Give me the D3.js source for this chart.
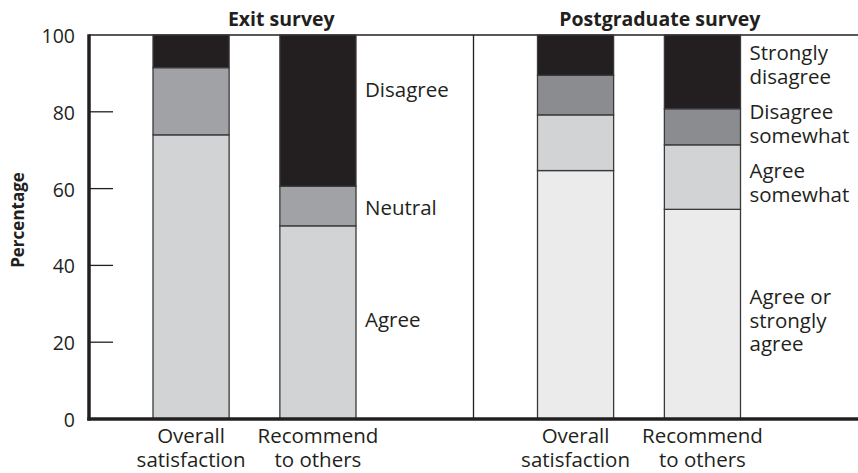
<!DOCTYPE html>
<html>
<head>
<meta charset="utf-8">
<script src="https://cdn.jsdelivr.net/npm/d3@7"></script>
<style>
  body { margin: 0; background: #fff; }
  text { font-family: "Open Sans", "Noto Sans", sans-serif; fill: #231f20; }
</style>
</head>
<body>
<div id="chart"></div>
<script>
// survey data, percentages per answer, bottom to top
const groups = ["Exit survey", "Postgraduate survey"];
const questions = ["Overall satisfaction", "Recommend to others"];
const questionLines = [["Overall", "satisfaction"], ["Recommend", "to others"]];

const exitLevels = ["Agree", "Neutral", "Disagree"];
const exitOverall = [74, 17.5, 8.5];
const exitRecommend = [50.3, 10.3, 39.4];
const exitColors = ["#d1d3d4", "#a1a2a5", "#231f20"];

const postLevels = ["Agree or strongly agree", "Agree somewhat", "Disagree somewhat", "Strongly disagree"];
const postOverall = [64.7, 14.5, 10.3, 10.5];
const postRecommend = [54.6, 16.8, 9.4, 19.2];
const postColors = ["#ebebec", "#d1d3d4", "#8b8c8f", "#231f20"];

const yTicks = [0, 20, 40, 60, 80, 100];

// label text shown beside the second bar of each group
const exitLabelLines = [["Agree"], ["Neutral"], ["Disagree"]];
const postLabelLines = [["Agree or", "strongly", "agree"], ["Agree", "somewhat"], ["Disagree", "somewhat"], ["Strongly", "disagree"]];

const W = 858, H = 473;
const mLeft = 89, mRight = 858, mTop = 35, mBottom = 419;

const svg = d3.select("#chart").append("svg")
  .attr("width", W)
  .attr("height", H);

let y = d3.scaleLinear().domain([0, 100]).range([mBottom, mTop]);

let xGroup = d3.scaleBand().domain(groups).range([mLeft, mRight]);
let xBar = d3.scaleBand().domain(questions).range([64, 267]).paddingInner(0.4);

let panels = [
  {name: groups[0], levels: exitLevels, colors: exitColors, values: [exitOverall, exitRecommend], labels: exitLabelLines,
   labelY: [327, 215, 97]},
  {name: groups[1], levels: postLevels, colors: postColors, values: [postOverall, postRecommend], labels: postLabelLines,
   labelY: [304, 178, 119, 60]}
];

// frame: top line and divider between panels
svg.append("line")
  .attr("x1", mLeft).attr("x2", mRight)
  .attr("y1", mTop).attr("y2", mTop)
  .attr("stroke", "#231f20").attr("stroke-width", 1.5);

svg.append("line")
  .attr("x1", xGroup(groups[1])).attr("x2", xGroup(groups[1]))
  .attr("y1", mTop).attr("y2", mBottom)
  .attr("stroke", "#231f20").attr("stroke-width", 1.3);

panels.forEach(function(p) {
  let x0 = xGroup(p.name);

  // stack the segments of each bar
  let rows = p.values.map(function(v, i) {
    let r = {q: questions[i]};
    p.levels.forEach(function(l, j) { r[l] = v[j]; });
    return r;
  });
  let series = d3.stack().keys(p.levels)(rows);

  let g = svg.append("g").attr("transform", "translate(" + x0 + ",0)");

  g.selectAll("g.seg")
    .data(series)
    .enter()
    .append("g")
    .attr("fill", function(d, i) { return p.colors[i]; })
    .selectAll("rect")
    .data(function(d) { return d; })
    .enter()
    .append("rect")
    .attr("x", function(d) { return xBar(d.data.q); })
    .attr("y", function(d) { return y(d[1]); })
    .attr("width", xBar.bandwidth())
    .attr("height", function(d) { return y(d[0]) - y(d[1]); })
    .attr("stroke", "#3a3a3c")
    .attr("stroke-width", 1.3);

  // panel title
  svg.append("text")
    .attr("x", x0 + xGroup.bandwidth() / 2 - (p.name === groups[1] ? 6 : 0))
    .attr("y", 26)
    .attr("text-anchor", "middle")
    .attr("font-weight", "bold")
    .attr("font-size", "19.5px")
    .text(p.name);

  // category labels under bars
  questions.forEach(function(q, i) {
    let cx = x0 + xBar(q) + xBar.bandwidth() / 2;
    let t = svg.append("text")
      .attr("x", cx)
      .attr("y", 443)
      .attr("text-anchor", "middle")
      .attr("font-size", "20.5px");
    questionLines[i].forEach(function(line, k) {
      t.append("tspan")
        .attr("x", cx)
        .attr("y", 443 + k * 24)
        .text(line);
    });
  });

  // segment labels on the right of the second bar
  let lx = x0 + xBar(questions[1]) + xBar.bandwidth() + 9;
  p.labels.forEach(function(lines, j) {
    let t = svg.append("text")
      .attr("x", lx)
      .attr("y", p.labelY[j])
      .attr("font-size", "20.5px");
    lines.forEach(function(line, k) {
      t.append("tspan")
        .attr("x", lx)
        .attr("y", p.labelY[j] + k * 23.5)
        .text(line);
    });
  });
});

// y axis with inward ticks
svg.append("line")
  .attr("x1", mLeft).attr("x2", mLeft)
  .attr("y1", mTop - 0.7).attr("y2", mBottom + 1.5)
  .attr("stroke", "#231f20").attr("stroke-width", 3.5);

svg.append("line")
  .attr("x1", mLeft - 1.7).attr("x2", mRight)
  .attr("y1", mBottom).attr("y2", mBottom)
  .attr("stroke", "#231f20").attr("stroke-width", 3.5);

svg.selectAll("line.tick")
  .data(yTicks.filter(function(d) { return d > 0 && d < 100; }))
  .enter()
  .append("line")
  .attr("x1", mLeft).attr("x2", mLeft + 24)
  .attr("y1", function(d) { return y(d); })
  .attr("y2", function(d) { return y(d); })
  .attr("stroke", "#231f20").attr("stroke-width", 1.3);

svg.selectAll("text.ylab")
  .data(yTicks)
  .enter()
  .append("text")
  .attr("x", 75)
  .attr("y", function(d) { return y(d) + 8; })
  .attr("text-anchor", "end")
  .attr("font-size", "19.5px")
  .text(function(d) { return d; });

svg.append("text")
  .attr("transform", "translate(24,220) rotate(-90)")
  .attr("text-anchor", "middle")
  .attr("font-weight", "bold")
  .attr("font-size", "17px")
  .text("Percentage");
</script>
</body>
</html>
